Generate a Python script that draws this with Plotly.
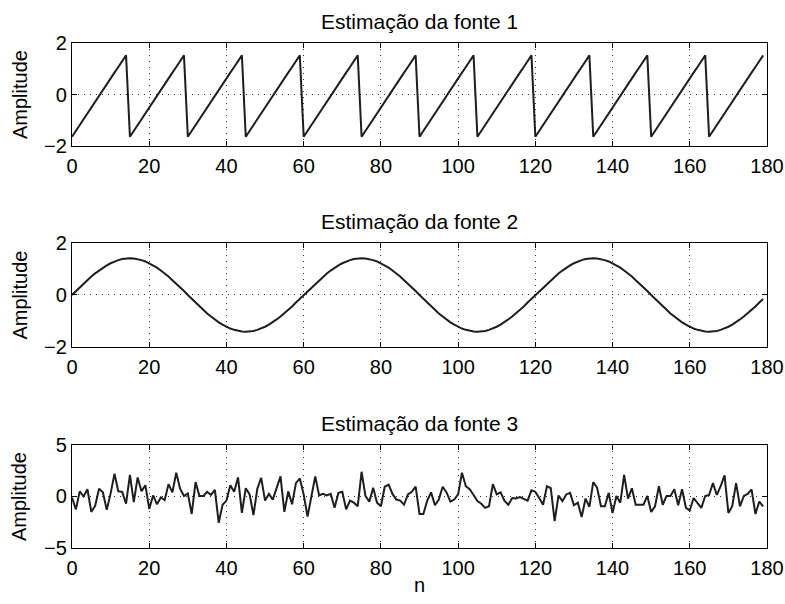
import plotly.graph_objects as go
from plotly.subplots import make_subplots

n = list(range(180))

fonte1 = [
    -1.64, -1.41, -1.19, -0.96, -0.74, -0.51, -0.28, -0.06, 0.17, 0.39, 0.62, 0.85, 1.07, 1.30, 1.52,
    -1.64, -1.41, -1.19, -0.96, -0.74, -0.51, -0.28, -0.06, 0.17, 0.39, 0.62, 0.85, 1.07, 1.30, 1.52,
    -1.64, -1.41, -1.19, -0.96, -0.74, -0.51, -0.28, -0.06, 0.17, 0.39, 0.62, 0.85, 1.07, 1.30, 1.52,
    -1.64, -1.41, -1.19, -0.96, -0.74, -0.51, -0.28, -0.06, 0.17, 0.39, 0.62, 0.85, 1.07, 1.30, 1.52,
    -1.64, -1.41, -1.19, -0.96, -0.74, -0.51, -0.28, -0.06, 0.17, 0.39, 0.62, 0.85, 1.07, 1.30, 1.52,
    -1.64, -1.41, -1.19, -0.96, -0.74, -0.51, -0.28, -0.06, 0.17, 0.39, 0.62, 0.85, 1.07, 1.30, 1.52,
    -1.64, -1.41, -1.19, -0.96, -0.74, -0.51, -0.28, -0.06, 0.17, 0.39, 0.62, 0.85, 1.07, 1.30, 1.52,
    -1.64, -1.41, -1.19, -0.96, -0.74, -0.51, -0.28, -0.06, 0.17, 0.39, 0.62, 0.85, 1.07, 1.30, 1.52,
    -1.64, -1.41, -1.19, -0.96, -0.74, -0.51, -0.28, -0.06, 0.17, 0.39, 0.62, 0.85, 1.07, 1.30, 1.52,
    -1.64, -1.41, -1.19, -0.96, -0.74, -0.51, -0.28, -0.06, 0.17, 0.39, 0.62, 0.85, 1.07, 1.30, 1.52,
    -1.64, -1.41, -1.19, -0.96, -0.74, -0.51, -0.28, -0.06, 0.17, 0.39, 0.62, 0.85, 1.07, 1.30, 1.52,
    -1.64, -1.41, -1.19, -0.96, -0.74, -0.51, -0.28, -0.06, 0.17, 0.39, 0.62, 0.85, 1.07, 1.30, 1.52,
]

fonte2 = [
    0, 0.15, 0.29, 0.44, 0.57, 0.71, 0.83, 0.94, 1.05, 1.14, 1.22, 1.29, 1.34, 1.38, 1.40,
    1.41, 1.40, 1.38, 1.34, 1.29, 1.22, 1.14, 1.05, 0.94, 0.83, 0.71, 0.57, 0.44, 0.29, 0.15,
    0, -0.15, -0.29, -0.44, -0.57, -0.71, -0.83, -0.94, -1.05, -1.14, -1.22, -1.29, -1.34, -1.38, -1.40,
    -1.41, -1.40, -1.38, -1.34, -1.29, -1.22, -1.14, -1.05, -0.94, -0.83, -0.71, -0.57, -0.44, -0.29, -0.15,
    0, 0.15, 0.29, 0.44, 0.57, 0.71, 0.83, 0.94, 1.05, 1.14, 1.22, 1.29, 1.34, 1.38, 1.40,
    1.41, 1.40, 1.38, 1.34, 1.29, 1.22, 1.14, 1.05, 0.94, 0.83, 0.71, 0.57, 0.44, 0.29, 0.15,
    0, -0.15, -0.29, -0.44, -0.57, -0.71, -0.83, -0.94, -1.05, -1.14, -1.22, -1.29, -1.34, -1.38, -1.40,
    -1.41, -1.40, -1.38, -1.34, -1.29, -1.22, -1.14, -1.05, -0.94, -0.83, -0.71, -0.57, -0.44, -0.29, -0.15,
    0, 0.15, 0.29, 0.44, 0.57, 0.71, 0.83, 0.94, 1.05, 1.14, 1.22, 1.29, 1.34, 1.38, 1.40,
    1.41, 1.40, 1.38, 1.34, 1.29, 1.22, 1.14, 1.05, 0.94, 0.83, 0.71, 0.57, 0.44, 0.29, 0.15,
    0, -0.15, -0.29, -0.44, -0.57, -0.71, -0.83, -0.94, -1.05, -1.14, -1.22, -1.29, -1.34, -1.38, -1.40,
    -1.41, -1.40, -1.38, -1.34, -1.29, -1.22, -1.14, -1.05, -0.94, -0.83, -0.71, -0.57, -0.44, -0.29, -0.15,
]

fonte3 = [
    -0.1, -1.25, 0.5, 0.0, 0.7, -1.5, -0.9, 0.75, 0.4, -1.3,
    0.3, 2.2, 0.5, 0.45, -0.7, 2.1, -0.55, 1.85, 0.5, 1.1,
    -1.2, 0.1, -0.75, -0.1, -0.35, 1.2, 0.4, 2.3, 0.75, 0.05,
    0.3, -1.7, 1.4, 0.05, 0.05, 0.45, 0.15, 0.65, -2.55, -0.8,
    -0.4, 1.1, 0.45, 1.85, -1.6, 0.8, 0.2, -1.8, 0.75, 1.8,
    -0.4, 0.25, -0.3, 0.95, 1.95, -1.5, 0.5, -0.75, 1.3, 1.75,
    0.2, -1.95, -0.1, 1.95, 0.1, 0.25, 0.1, 0.25, -1.1, 0.35,
    0.45, -1.25, -0.4, -0.6, -0.95, 2.4, 0.05, -0.5, 0.85, -0.6,
    -0.95, 0.95, 1.15, 0.25, -0.3, -0.4, -0.8, 0.2, 0.45, 0.95,
    -1.7, -1.7, -0.4, 0.4, -0.85, -0.3, 0.95, 0.4, -0.5, -0.3,
    0.2, 2.3, 1.0, 0.7, 0.15, -0.45, -0.7, -1.1, -0.95, 1.2,
    0.2, 0.4, -0.4, -0.8, -0.15, -0.2, -0.05, -0.2, -0.4, 0.6,
    0.45, -0.15, -0.8, 1.0, 0.8, -2.4, 0.1, -0.45, 0.2, 0.35,
    -0.85, -0.6, -2.0, -0.2, -1.0, 1.4, 0.85, -0.95, -0.95, 0.35,
    -1.6, 0.05, -0.6, 2.1, -0.2, 0.8, -0.8, -0.8, -0.8, 0.05,
    -1.5, -0.95, 1.0, -0.8, 0.05, 0.05, 0.7, -0.85, 0.7, -1.1,
    -1.35, -0.15, -0.6, -1.1, 0.05, 0.15, 1.3, 0.15, 1.0, 2.05,
    -1.6, -0.95, 1.3, -0.95, 0.05, 0.25, 0.7, -1.7, -0.5, -0.95,
]

titles = ["Estimação da fonte 1", "Estimação da fonte 2", "Estimação da fonte 3"]
series = [fonte1, fonte2, fonte3]
y_ranges = [[-2, 2], [-2, 2], [-5, 5]]
y_ticks = [[-2, 0, 2], [-2, 0, 2], [-5, 0, 5]]
x_ticks = [0, 20, 40, 60, 80, 100, 120, 140, 160, 180]
y_label = "Amplitude"
x_label = "n"

FONT = "Liberation Sans, Arial, Helvetica, sans-serif"
FS_TICK = 20
FS_TITLE = 21
FS_LABEL = 20

fig = make_subplots(rows=3, cols=1)
domains = [[0.796, 1.0], [0.398, 0.604], [0.0, 0.204]]

for i in range(3):
    fig.add_trace(
        go.Scatter(x=n, y=series[i], mode="lines",
                   line=dict(color="#1e1e1e", width=2), showlegend=False),
        row=i + 1, col=1)
    ax = dict(
        showline=True, linecolor="black", linewidth=1.3, mirror="ticks",
        ticks="inside", ticklen=5, tickwidth=1, tickcolor="black",
        showgrid=True, gridcolor="#333333", gridwidth=1, griddash="1px,5px",
        zeroline=False,
        tickfont=dict(family=FONT, size=FS_TICK, color="black"),
    )
    fig.update_xaxes(range=[0, 180], tickvals=x_ticks, ticklabelstandoff=2,
                     **ax, row=i + 1, col=1)
    fig.update_yaxes(range=y_ranges[i], tickvals=y_ticks[i], domain=domains[i],
                     **ax, row=i + 1, col=1)
    fig.add_annotation(
        text=titles[i], xref="paper", yref="paper", x=0.5, y=domains[i][1],
        xanchor="center", yanchor="bottom", yshift=8, showarrow=False,
        font=dict(family=FONT, size=FS_TITLE, color="black"))
    fig.add_annotation(
        text=y_label, xref="paper", yref="paper", x=-0.0755,
        y=(domains[i][0] + domains[i][1]) / 2, textangle=-90,
        xanchor="center", yanchor="middle", showarrow=False,
        font=dict(family=FONT, size=FS_LABEL, color="black"))

fig.add_annotation(
    text=x_label, xref="paper", yref="paper", x=0.5, y=-0.0733,
    xanchor="center", yanchor="middle", showarrow=False,
    font=dict(family=FONT, size=FS_LABEL, color="black"))

fig.update_layout(
    width=785, height=604,
    margin=dict(l=72, r=18, t=43, b=56),
    paper_bgcolor="white", plot_bgcolor="white",
    template="none",
    font=dict(family=FONT, size=FS_TICK, color="black"),
)

fig.write_html("out.html")
